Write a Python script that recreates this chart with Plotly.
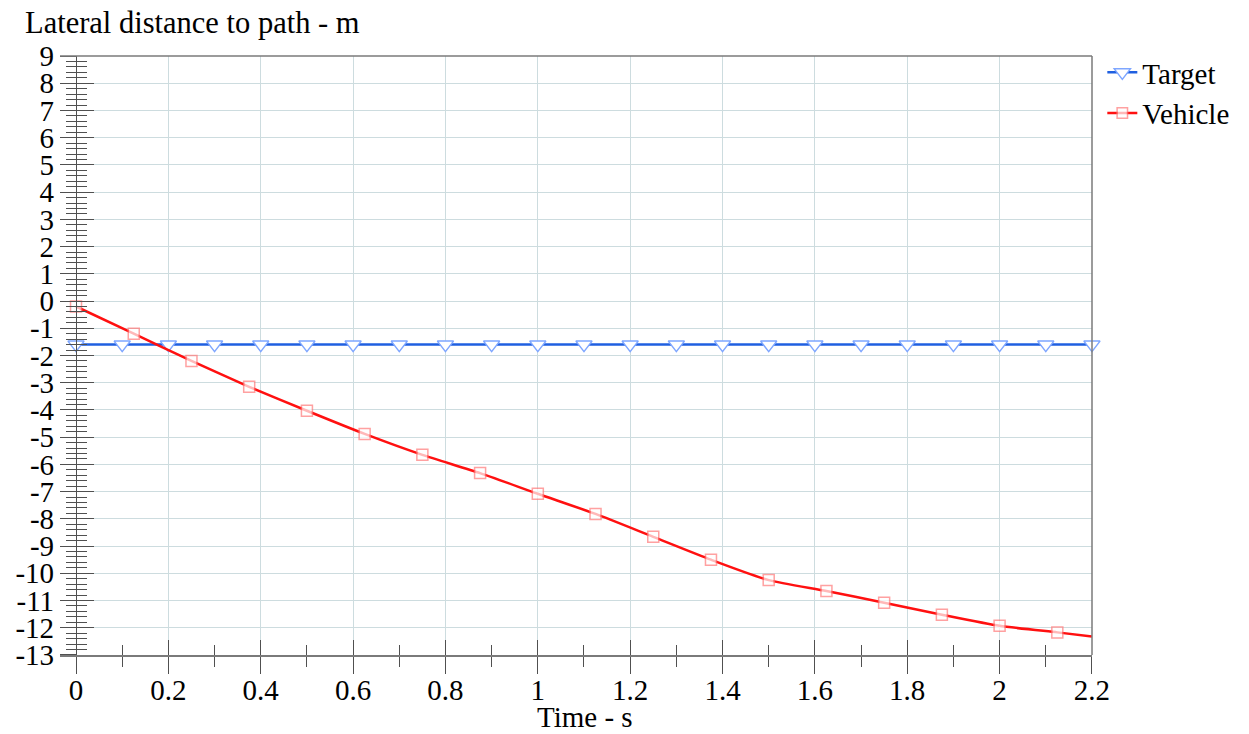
import plotly.graph_objects as go

# ---- data ----
target_t = [0.0, 0.1, 0.2, 0.3, 0.4, 0.5, 0.6, 0.7, 0.8, 0.9, 1.0, 1.1,
            1.2, 1.3, 1.4, 1.5, 1.6, 1.7, 1.8, 1.9, 2.0, 2.1, 2.2]
target_y = [-1.6, -1.6, -1.6, -1.6, -1.6, -1.6, -1.6, -1.6, -1.6, -1.6, -1.6, -1.6,
            -1.6, -1.6, -1.6, -1.6, -1.6, -1.6, -1.6, -1.6, -1.6, -1.6, -1.6]

vehicle_t = [0.0, 0.125, 0.25, 0.375, 0.5, 0.625, 0.75, 0.875, 1.0, 1.125,
             1.25, 1.375, 1.5, 1.625, 1.75, 1.875, 2.0, 2.125, 2.2]
vehicle_y = [-0.2, -1.2, -2.2, -3.15, -4.03, -4.88, -5.65, -6.32, -7.08, -7.82,
             -8.66, -9.5, -10.25, -10.65, -11.08, -11.52, -11.93, -12.17, -12.32]
vehicle_marker_shown = [True] * 18 + [False]

x_ticks = [0, 0.2, 0.4, 0.6, 0.8, 1, 1.2, 1.4, 1.6, 1.8, 2, 2.2]
x_ticklabels = ["0", "0.2", "0.4", "0.6", "0.8", "1", "1.2", "1.4", "1.6", "1.8", "2", "2.2"]
y_ticks = [-13, -12, -11, -10, -9, -8, -7, -6, -5, -4, -3, -2, -1,
           0, 1, 2, 3, 4, 5, 6, 7, 8, 9]
y_ticklabels = ["-13", "-12", "-11", "-10", "-9", "-8", "-7", "-6", "-5", "-4", "-3", "-2", "-1",
                "0", "1", "2", "3", "4", "5", "6", "7", "8", "9"]

FONT = "Liberation Serif"
GRID = "#cddcdf"
AXIS = "#7a7a7a"
TICK = "#505050"

fig = go.Figure()

fig.add_trace(go.Scatter(
    x=target_t, y=target_y, name="Target", mode="lines+markers", cliponaxis=False,
    line=dict(color="#1f5fe0", width=2.5),
    marker=dict(symbol="triangle-down", size=14, color="white",
                line=dict(color="#7ea6ff", width=1.5)),
))
fig.add_trace(go.Scatter(
    x=vehicle_t, y=vehicle_y, name="Vehicle", mode="lines+markers", cliponaxis=False,
    line=dict(color="#ff1010", width=2.5, shape="spline", smoothing=0.6),
    marker=dict(symbol="square", size=[11 if s else 0 for s in vehicle_marker_shown],
                color="white", line=dict(color="#ff7a7a", width=1.5)),
))
# invisible helper trace so the overlay axes (for crossing ticks) are drawn
fig.add_trace(go.Scatter(x=[0], y=[0], xaxis="x2", yaxis="y2", mode="markers",
                         marker=dict(opacity=0), showlegend=False, hoverinfo="skip"))

xr = [-0.0347, 2.2001]
yr = [-13.001, 9.001]
ypos = (0 - xr[0]) / (xr[1] - xr[0])

common_x = dict(range=xr, tickvals=x_ticks, ticktext=x_ticklabels, zeroline=False,
                automargin=False)
common_y = dict(range=yr, tickvals=y_ticks, ticktext=y_ticklabels, zeroline=False,
                automargin=False)

fig.update_layout(
    width=1249, height=734,
    margin=dict(l=60, r=157, t=56, b=79),
    plot_bgcolor="white", paper_bgcolor="white",
    font=dict(family=FONT, size=29, color="black"),
    title=dict(text="Lateral distance to path - m", xref="container", yref="container",
               x=25 / 1249, xanchor="left", y=1 - 22 / 734, yanchor="middle",
               font=dict(family=FONT, size=30.5, color="black")),
    showlegend=True,
    legend=dict(x=1.01, xanchor="left", y=1.015, yanchor="top",
                font=dict(family=FONT, size=29, color="black"),
                bgcolor="rgba(0,0,0,0)", itemwidth=30, tracegroupgap=0),
    xaxis=dict(**common_x, showgrid=True, gridcolor=GRID, gridwidth=1,
               showline=True, linecolor=AXIS, linewidth=1.5,
               ticks="outside", ticklen=17, tickcolor=TICK, tickwidth=1.3,
               minor=dict(dtick=0.1, tick0=0, ticks="outside", ticklen=10,
                          tickcolor=TICK, tickwidth=1.2, showgrid=False),
               showticklabels=True, tickfont=dict(family=FONT, size=29),
               ticklabelstandoff=-9, anchor="y"),
    yaxis=dict(**common_y, showgrid=True, gridcolor=GRID, gridwidth=1,
               showline=True, linecolor=TICK, linewidth=1.3,
               ticks="outside", ticklen=16, tickcolor=TICK, tickwidth=1.3,
               minor=dict(dtick=0.2, tick0=0, ticks="outside", ticklen=10,
                          tickcolor=TICK, tickwidth=1.2, showgrid=False),
               tickfont=dict(family=FONT, size=29),
               anchor="free", position=ypos, ticklabelstandoff=0),
    xaxis2=dict(**common_x, overlaying="x", anchor="y", side="bottom",
                showgrid=False, showline=False, showticklabels=False,
                ticks="inside", ticklen=15, tickcolor=TICK, tickwidth=1.3,
                minor=dict(dtick=0.1, tick0=0, ticks="inside", ticklen=10,
                           tickcolor=TICK, tickwidth=1.2, showgrid=False)),
    yaxis2=dict(**common_y, overlaying="y", anchor="free", position=ypos,
                showgrid=False, showline=False, showticklabels=False,
                ticks="inside", ticklen=17, tickcolor=TICK, tickwidth=1.3,
                minor=dict(dtick=0.2, tick0=0, ticks="inside", ticklen=10,
                           tickcolor=TICK, tickwidth=1.2, showgrid=False)),
    annotations=[dict(text="Time - s", xref="paper", yref="paper",
                      x=(585 - 60) / 1032, y=(655 - 717) / 599,
                      xanchor="center", yanchor="middle", showarrow=False,
                      font=dict(family=FONT, size=29, color="black"))],
    shapes=[
        dict(type="line", xref="paper", yref="paper", x0=0, x1=1, y0=1, y1=1,
             line=dict(color=AXIS, width=1.5)),
        dict(type="line", xref="paper", yref="paper", x0=1, x1=1, y0=0, y1=1,
             line=dict(color=AXIS, width=1.5)),
    ],
)

fig.write_html("out.html")
